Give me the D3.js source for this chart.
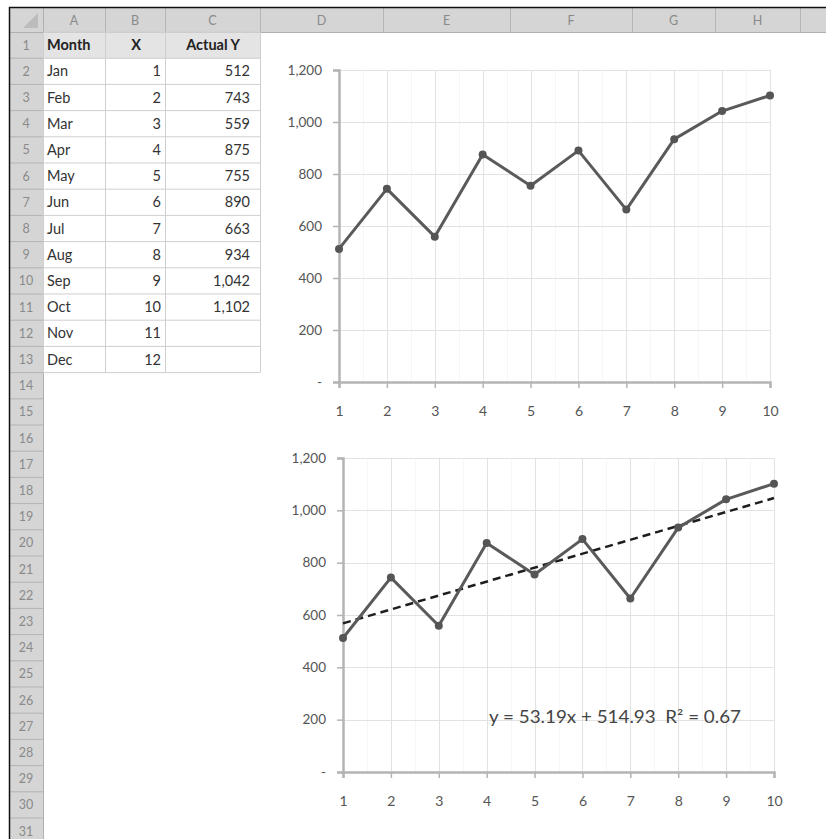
<!DOCTYPE html>
<html><head><meta charset="utf-8">
<script src="https://cdn.jsdelivr.net/npm/d3@7"></script>
<style>
html,body{margin:0;padding:0;background:#fff;}
svg{display:block;font-family:Lato,"Open Sans",sans-serif;}
</style></head>
<body><svg id="c" width="826" height="839"></svg>
<script>
// ---- data ----
const months = ["Jan","Feb","Mar","Apr","May","Jun","Jul","Aug","Sep","Oct","Nov","Dec"];
const xValues = [1,2,3,4,5,6,7,8,9,10,11,12];
const actualY = [512,743,559,875,755,890,663,934,1042,1102,null,null];
const tableHeaders = ["Month","X","Actual Y"];
const columnLetters = ["A","B","C","D","E","F","G","H"];
const yTicks = [0,200,400,600,800,1000,1200];
const xTicks = [1,2,3,4,5,6,7,8,9,10];
const trendLabel = "y = 53.19x + 514.93  R\u00B2 = 0.67";

const svg = d3.select("#c");
const W = 826, H = 839;

// ---- spreadsheet frame ----
const colEdges = [43,105,165,260,383,510,632,715,800,900];
const rowTop = 32, rowH = 26.2;
const nRows = 31;
const hdrFill = "#d5d5d5";

svg.append("rect").attr("x",9).attr("y",8).attr("width",W-9).attr("height",24).attr("fill",hdrFill);
svg.append("rect").attr("x",9).attr("y",8).attr("width",34).attr("height",H-8).attr("fill",hdrFill);
colEdges.forEach(x=>svg.append("line").attr("x1",x+0.5).attr("x2",x+0.5).attr("y1",8).attr("y2",32).attr("stroke","#b5b5b5"));
svg.append("line").attr("x1",9).attr("x2",W).attr("y1",32.5).attr("y2",32.5).attr("stroke","#b0b0b0");
columnLetters.forEach((l,i)=>{
  svg.append("text").attr("x",(colEdges[i]+colEdges[i+1])/2).attr("y",25).attr("text-anchor","middle")
    .attr("font-size",12.5).attr("fill","#8a8a8a").text(l);
});
svg.append("path").attr("d","M38,13 L38,28 L23,28 Z").attr("fill","#bcbcbc");
d3.range(nRows).forEach(i=>{
  const y0 = rowTop + i*rowH;
  svg.append("line").attr("x1",9).attr("x2",43).attr("y1",y0+rowH).attr("y2",y0+rowH).attr("stroke","#b3b3b3");
  svg.append("text").attr("x",26).attr("y",Math.min(y0+rowH/2+4.5, H-1)).attr("text-anchor","middle")
    .attr("font-size",12.5).attr("fill","#8a8a8a").text(i+1);
});
svg.append("line").attr("x1",43.5).attr("x2",43.5).attr("y1",8).attr("y2",H).attr("stroke","#b0b0b0");
svg.append("line").attr("x1",9).attr("x2",W).attr("y1",7.5).attr("y2",7.5).attr("stroke","#111").attr("stroke-width",1.5);
svg.append("line").attr("x1",9.5).attr("x2",9.5).attr("y1",7).attr("y2",H).attr("stroke","#111").attr("stroke-width",1.5);

// ---- table A1:C13 ----
const tblCols = [43,105,165,260];
const tblRows = 13;
svg.append("rect").attr("x",44).attr("y",rowTop+0.5).attr("width",216).attr("height",rowH).attr("fill","#e4e4e4");
d3.range(tblRows+1).forEach(i=>{
  const y = rowTop + i*rowH;
  svg.append("line").attr("x1",43).attr("x2",260).attr("y1",y).attr("y2",y).attr("stroke","#cfcfcf");
});
tblCols.forEach(x=>svg.append("line").attr("x1",x+0.5).attr("x2",x+0.5).attr("y1",rowTop).attr("y2",rowTop+tblRows*rowH).attr("stroke","#cfcfcf"));
const cy = i => rowTop + i*rowH + rowH/2 + 5;
const TF = 14.5;
svg.append("text").attr("x",47).attr("y",cy(0)).attr("font-size",TF).attr("font-weight","bold").attr("fill","#222").text(tableHeaders[0]);
svg.append("text").attr("x",136).attr("y",cy(0)).attr("text-anchor","middle").attr("font-size",TF).attr("font-weight","bold").attr("fill","#222").text(tableHeaders[1]);
svg.append("text").attr("x",213).attr("y",cy(0)).attr("text-anchor","middle").attr("font-size",TF).attr("font-weight","bold").attr("fill","#222").text(tableHeaders[2]);
const fmt = d3.format(",");
months.forEach((m,i)=>{
  svg.append("text").attr("x",47).attr("y",cy(i+1)).attr("font-size",TF).attr("fill","#333").text(m);
  svg.append("text").attr("x",161).attr("y",cy(i+1)).attr("text-anchor","end").attr("font-size",TF).attr("fill","#333").text(xValues[i]);
  if(actualY[i]!=null)
    svg.append("text").attr("x",250).attr("y",cy(i+1)).attr("text-anchor","end").attr("font-size",TF).attr("fill","#333").text(fmt(actualY[i]));
});

// ---- charts ----
const pts = xValues.map((x,i)=>({x, y:actualY[i]})).filter(d=>d.y!=null);

function drawChart(box, withTrend){
  const g = svg.append("g");
  const x = d3.scaleLinear().domain([1,10]).range([box.x0, box.x1]);
  const y = d3.scaleLinear().domain([0,1200]).range([box.y0, box.y1]);
  g.selectAll(".mg").data(d3.range(1.5,10,1)).join("line")
    .attr("x1",d=>Math.round(x(d))+0.5).attr("x2",d=>Math.round(x(d))+0.5)
    .attr("y1",y(0)).attr("y2",y(1200)).attr("stroke","#f6f6f6");
  g.selectAll(".hg").data(yTicks.filter(d=>d>0)).join("line")
    .attr("x1",x(1)).attr("x2",x(10)).attr("y1",d=>Math.round(y(d))+0.5).attr("y2",d=>Math.round(y(d))+0.5)
    .attr("stroke","#e2e2e2");
  g.selectAll(".vg").data(xTicks.filter(d=>d>1)).join("line")
    .attr("x1",d=>Math.round(x(d))+0.5).attr("x2",d=>Math.round(x(d))+0.5)
    .attr("y1",y(0)).attr("y2",y(1200)).attr("stroke","#e2e2e2");
  const ya = d3.axisLeft(y).tickValues(yTicks).tickSize(6).tickPadding(11)
    .tickFormat(d=>d===0?"-":fmt(d));
  const yg = g.append("g").attr("transform",`translate(${x(1)},0)`).call(ya);
  yg.select(".domain").attr("stroke","#b4b4b4").attr("stroke-width",2.5);
  yg.selectAll(".tick line").attr("stroke","#b4b4b4").attr("stroke-width",1.5);
  yg.selectAll("text").attr("font-size",13.5).attr("fill","#555").attr("font-family","Lato,sans-serif");
  const xa = d3.axisBottom(x).tickValues(xTicks).tickSize(6).tickPadding(18).tickFormat(d3.format("d"));
  const xg = g.append("g").attr("transform",`translate(0,${y(0)})`).call(xa);
  xg.select(".domain").attr("stroke","#b4b4b4").attr("stroke-width",2.5);
  xg.selectAll(".tick line").attr("stroke","#b4b4b4").attr("stroke-width",1.5);
  xg.selectAll("text").attr("font-size",14).attr("fill","#555").attr("font-family","Lato,sans-serif");
  if(withTrend){
    const mx = d3.mean(pts,d=>d.x), my = d3.mean(pts,d=>d.y);
    const b = d3.sum(pts,d=>(d.x-mx)*(d.y-my))/d3.sum(pts,d=>(d.x-mx)**2);
    const a = my - b*mx;
    g.append("line").attr("x1",x(1)).attr("y1",y(a+b)).attr("x2",x(10)).attr("y2",y(a+10*b))
      .attr("stroke","#1e1e1e").attr("stroke-width",2.5).attr("stroke-dasharray","8,5");
    g.append("text").attr("x",box.labelX).attr("y",box.labelY).attr("font-size",16.5).attr("fill","#444")
      .attr("textLength",252).attr("lengthAdjust","spacingAndGlyphs")
      .style("white-space","pre").text(trendLabel);
  }
  g.append("path").datum(pts).attr("fill","none").attr("stroke","#5a5a5a").attr("stroke-width",3)
    .attr("stroke-linejoin","round").attr("d",d3.line().x(d=>x(d.x)).y(d=>y(d.y)));
  g.selectAll(".pt").data(pts).join("circle").attr("cx",d=>x(d.x)).attr("cy",d=>y(d.y)).attr("r",4)
    .attr("fill","#555");
}
drawChart({x0:339,x1:770,y0:382,y1:70}, false);
drawChart({x0:343,x1:774,y0:772,y1:458,labelX:489,labelY:723}, true);
</script></body></html>
